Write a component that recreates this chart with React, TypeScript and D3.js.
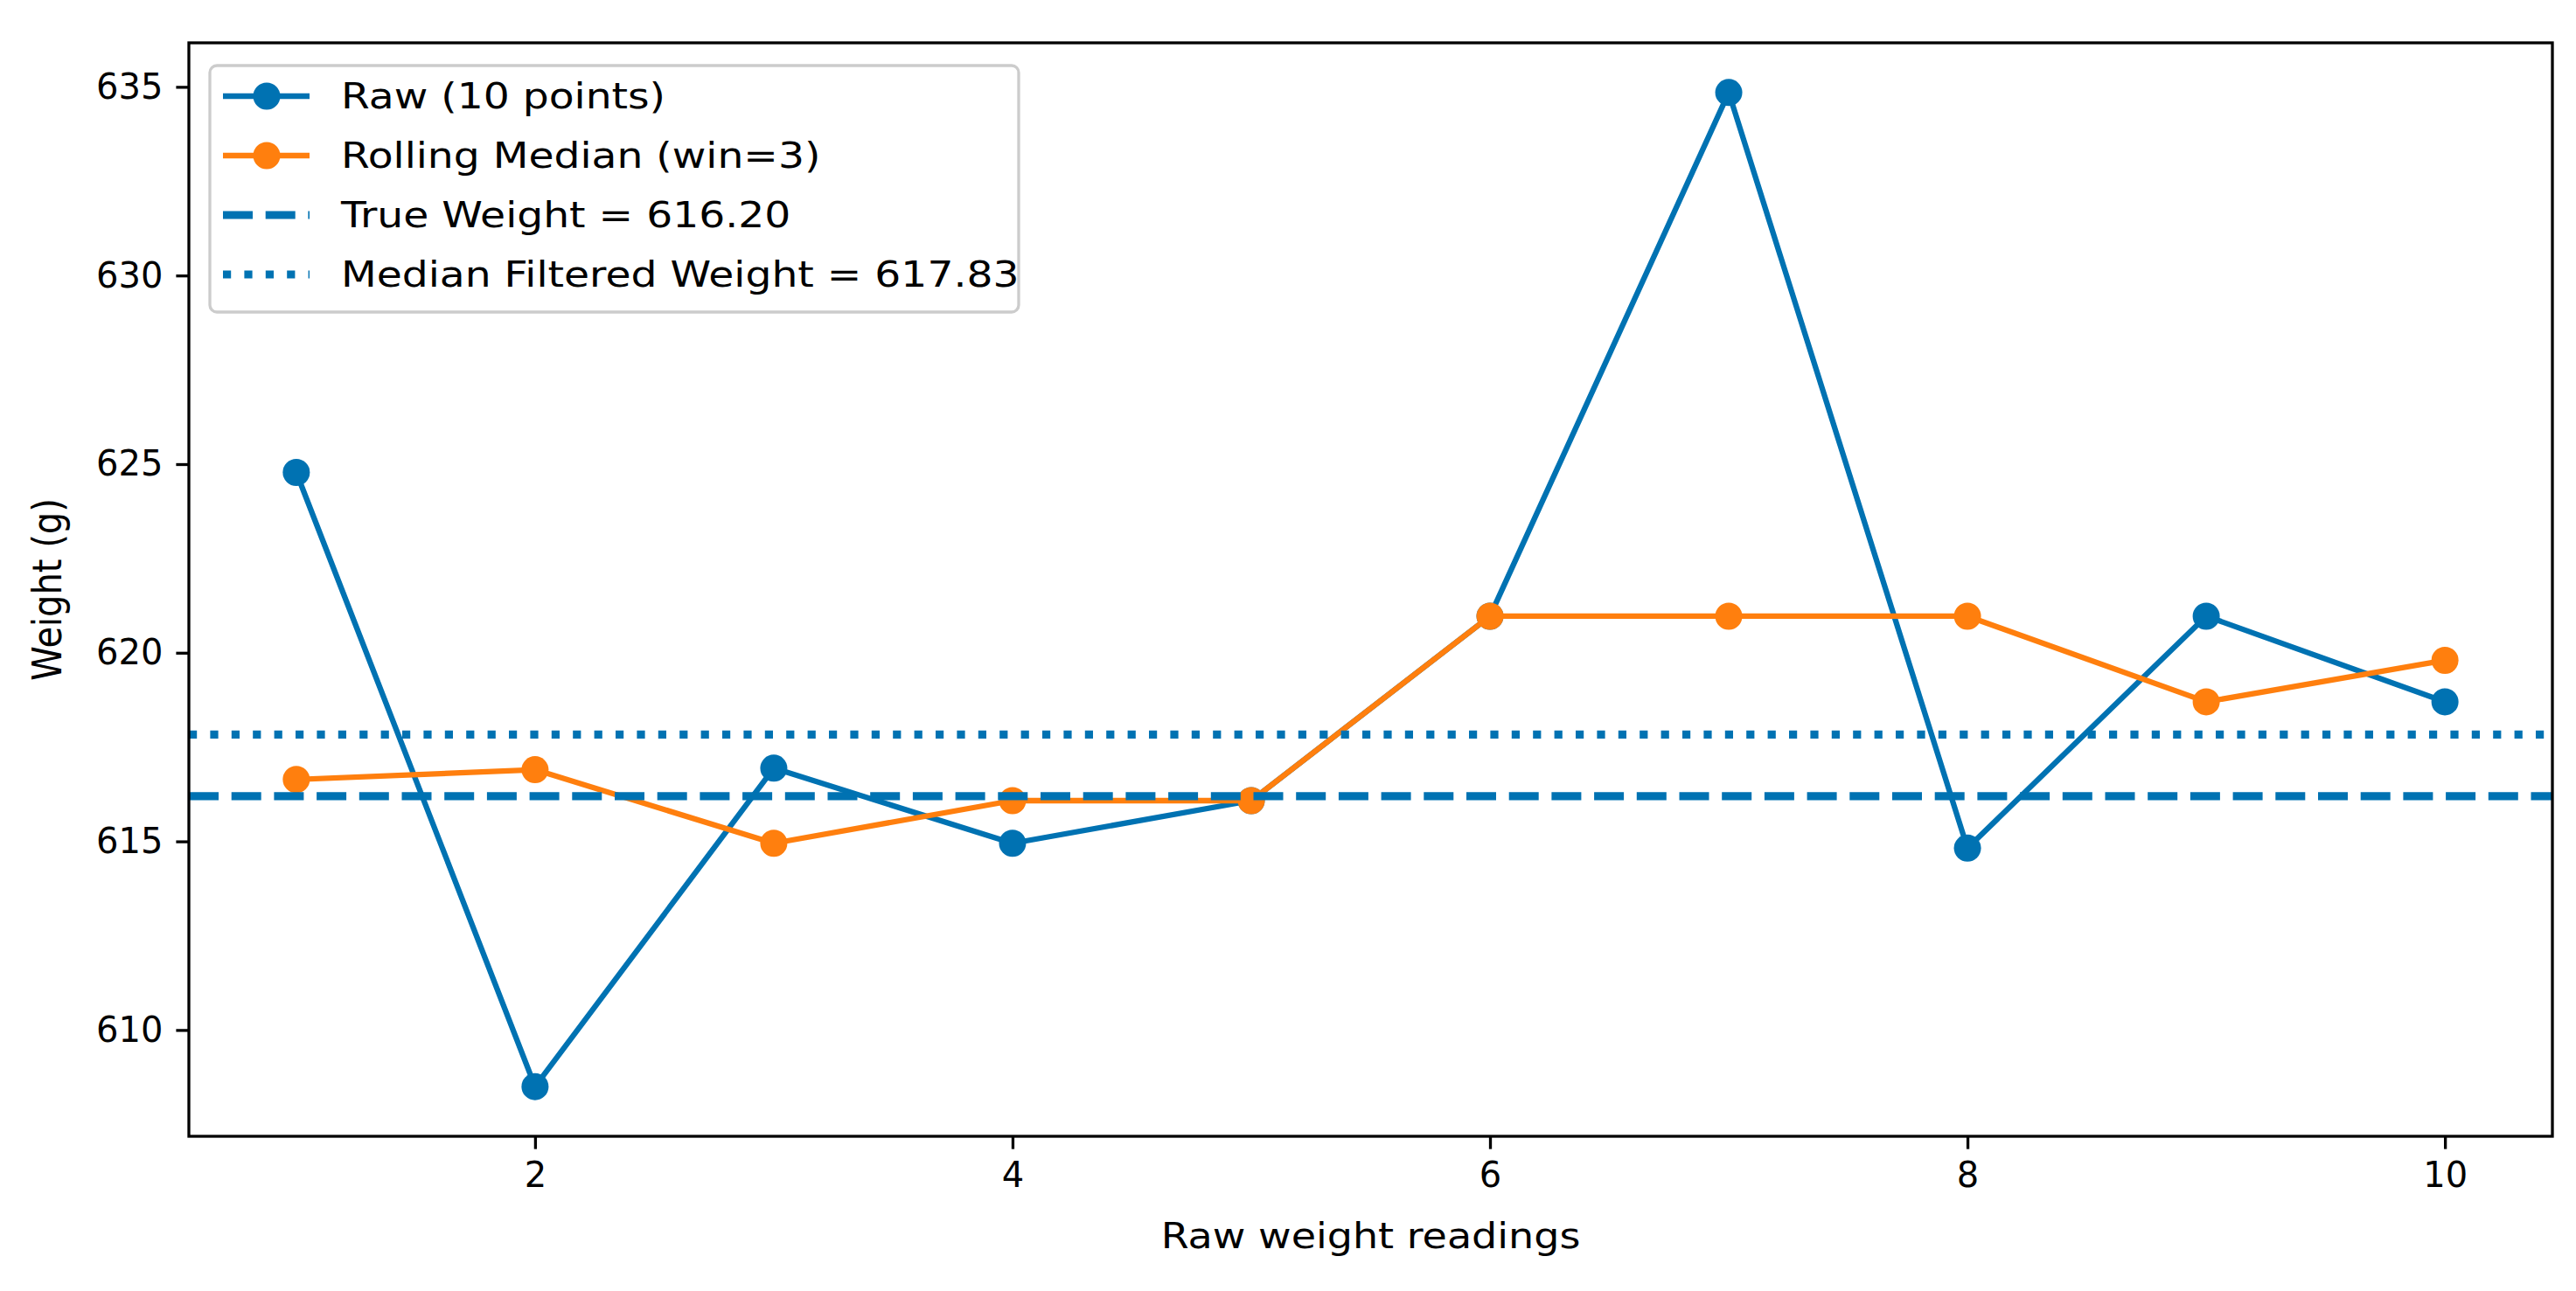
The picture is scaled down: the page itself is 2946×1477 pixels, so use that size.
import * as d3 from "d3";
import {useEffect, useRef} from "react";

// readings
const readings = [1, 2, 3, 4, 5, 6, 7, 8, 9, 10];
const rawWeights = [624.78, 608.5, 616.94, 614.95, 616.08, 620.97, 634.85, 614.82, 620.97, 618.7];
const medianWeights = [616.64, 616.9, 614.95, 616.08, 616.08, 620.97, 620.97, 620.97, 618.7, 619.8];
const trueWeight = 616.20;
const filteredWeight = 617.83;
const xTicks = [2, 4, 6, 8, 10];
const yTicks = [610, 615, 620, 625, 630, 635];
const legendLabels = ["Raw (10 points)", "Rolling Median (win=3)", "True Weight = 616.20", "Median Filtered Weight = 617.83"];

const BLUE = "#0072b2";
const ORANGE = "#ff7f0e";
const FONT = "DejaVu Sans, sans-serif";
// the reference label text is a bit wider than it is tall
const LABEL_STRETCH = 1.15;
const LEGEND_STRETCH = 1.18;

export default function App() {
    const svgRef = useRef<SVGSVGElement | null>(null);

    const baseWidth = 2946;
    const baseHeight = 1477;
    const margin = {top: 49, right: 27, bottom: 177, left: 216};
    const width = baseWidth - margin.left - margin.right;
    const height = baseHeight - margin.top - margin.bottom;

    useEffect(() => {
        if (!svgRef.current) return;
        const svg = d3.select(svgRef.current);
        svg.selectAll("*").remove();

        const g = svg.append("g")
            .attr("transform", `translate(${margin.left},${margin.top})`);

        // matplotlib-like 5% margins
        const xMin = d3.min(readings) as number;
        const xMax = d3.max(readings) as number;
        const xPad = (xMax - xMin) * 0.05;
        const allY = rawWeights.concat(medianWeights);
        const yMin = d3.min(allY) as number;
        const yMax = d3.max(allY) as number;
        const yPad = (yMax - yMin) * 0.05;

        const xScale = d3.scaleLinear()
            .domain([xMin - xPad, xMax + xPad])
            .range([0, width]);

        const yScale = d3.scaleLinear()
            .domain([yMin - yPad, yMax + yPad])
            .range([height, 0]);

        // axes
        const xAxis = g.append("g")
            .attr("transform", `translate(0,${height})`)
            .call(d3.axisBottom(xScale).tickValues(xTicks).tickSize(14.6).tickPadding(15).tickFormat(d3.format("d")));
        const yAxis = g.append("g")
            .call(d3.axisLeft(yScale).tickValues(yTicks).tickSize(14.6).tickPadding(15).tickFormat(d3.format("d")));

        [xAxis, yAxis].forEach(ax => {
            ax.select(".domain").remove();
            ax.selectAll(".tick line").attr("stroke", "#000").attr("stroke-width", 3.3);
            ax.selectAll(".tick text")
                .attr("fill", "#000")
                .style("font-family", FONT)
                .style("font-size", "40px");
        });

        // series
        const line = d3.line<number>()
            .x((_, i) => xScale(readings[i]))
            .y(d => yScale(d));

        const drawSeries = (values: number[], color: string) => {
            g.append("path")
                .datum(values)
                .attr("d", line)
                .attr("fill", "none")
                .attr("stroke", color)
                .attr("stroke-width", 6.3)
                .attr("stroke-linejoin", "round")
                .attr("stroke-linecap", "square");
            g.append("g")
                .selectAll("circle")
                .data(values)
                .join("circle")
                .attr("cx", (_, i) => xScale(readings[i]))
                .attr("cy", d => yScale(d))
                .attr("r", 15.5)
                .attr("fill", color);
        };

        drawSeries(rawWeights, BLUE);
        drawSeries(medianWeights, ORANGE);

        g.append("line")
            .attr("x1", 0).attr("x2", width)
            .attr("y1", yScale(trueWeight)).attr("y2", yScale(trueWeight))
            .attr("stroke", BLUE)
            .attr("stroke-width", 9.2)
            .attr("stroke-dasharray", "34 14.7");

        g.append("line")
            .attr("x1", 0).attr("x2", width)
            .attr("y1", yScale(filteredWeight)).attr("y2", yScale(filteredWeight))
            .attr("stroke", BLUE)
            .attr("stroke-width", 9.2)
            .attr("stroke-dasharray", "9.2 15.2");

        // frame
        g.append("rect")
            .attr("x", 0).attr("y", 0)
            .attr("width", width).attr("height", height)
            .attr("fill", "none")
            .attr("stroke", "#000")
            .attr("stroke-width", 3.3);

        // axis labels
        g.append("text")
            .attr("transform", `translate(${width / 2},${1428 - margin.top}) scale(${LABEL_STRETCH},1)`)
            .attr("text-anchor", "middle")
            .style("font-family", FONT)
            .style("font-size", "40px")
            .text("Raw weight readings");

        g.append("text")
            .attr("transform", `translate(${70 - margin.left},${height / 2}) scale(${LABEL_STRETCH},1) rotate(-90)`)
            .attr("text-anchor", "middle")
            .style("font-family", FONT)
            .style("font-size", "40px")
            .text("Weight (g)");

        // legend
        const legend = g.append("g").attr("transform", `translate(${240 - margin.left},${75 - margin.top})`);
        legend.append("rect")
            .attr("width", 925).attr("height", 282)
            .attr("rx", 8)
            .attr("fill", "#fff")
            .attr("fill-opacity", 0.8)
            .attr("stroke", "#cccccc")
            .attr("stroke-width", 3.3);

        const styles = [
            {color: BLUE, dash: null, marker: true, width: 6.3},
            {color: ORANGE, dash: null, marker: true, width: 6.3},
            {color: BLUE, dash: "34 14.7", marker: false, width: 9.2},
            {color: BLUE, dash: "9.2 15.2", marker: false, width: 9.2},
        ];

        legendLabels.forEach((label, i) => {
            const cy = 35 + i * 68;
            const s = styles[i];
            const row = legend.append("g");
            row.append("line")
                .attr("x1", 15).attr("x2", 114)
                .attr("y1", cy).attr("y2", cy)
                .attr("stroke", s.color)
                .attr("stroke-width", s.width)
                .attr("stroke-dasharray", s.dash);
            if (s.marker) {
                row.append("circle")
                    .attr("cx", 65).attr("cy", cy)
                    .attr("r", 15.5)
                    .attr("fill", s.color);
            }
            row.append("text")
                .attr("transform", `translate(150,${cy}) scale(${LEGEND_STRETCH},1)`)
                .attr("dy", "0.36em")
                .style("font-family", FONT)
                .style("font-size", "40px")
                .text(label);
        });
    }, []);

    return (
        <svg
            ref={svgRef}
            width={baseWidth}
            height={baseHeight}
            viewBox={`0 0 ${baseWidth} ${baseHeight}`}
            style={{position: "absolute", left: 0, top: 0, background: "#fff"}}
        />
    );
}
